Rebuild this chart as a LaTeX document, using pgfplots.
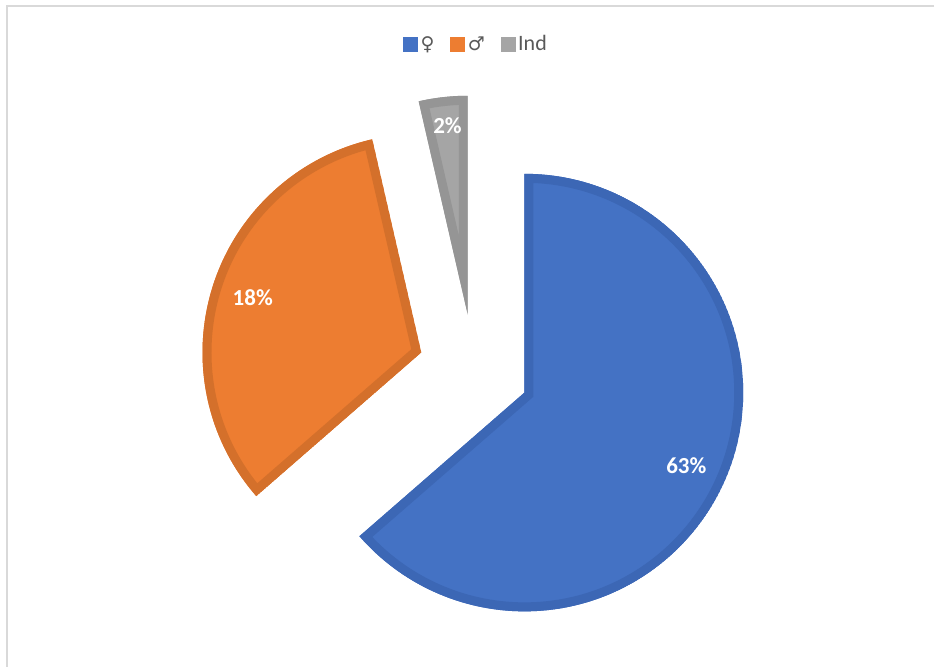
\documentclass[border=0pt]{standalone}
\usepackage{pgfplots}
\usepackage{pgfplotstable}
\pgfplotsset{compat=1.18}
\usepackage{fontspec}
\setmainfont{Carlito}
\newfontfamily\symfont{DejaVu Sans}
\definecolor{cblue}{HTML}{4472C4}
\definecolor{dblue}{HTML}{3C67B5}
\definecolor{corange}{HTML}{ED7D31}
\definecolor{dorange}{HTML}{D4702B}
\definecolor{cgrey}{HTML}{A5A5A5}
\definecolor{dgrey}{HTML}{959595}
\definecolor{legtext}{HTML}{595959}
\definecolor{framegrey}{HTML}{D9D9D9}

% share = angular share of the pie (%), label = printed data label (%)
\pgfplotstableread{
name share label lx ly
F 63.6 63 687 466
M 32.8 18 253 298
I 3.6 2 448 126
}\pietable

\pgfplotstablegetelem{0}{share}\of\pietable \let\shA\pgfplotsretval
\pgfplotstablegetelem{1}{share}\of\pietable \let\shB\pgfplotsretval
\pgfplotstablegetelem{2}{share}\of\pietable \let\shC\pgfplotsretval
\pgfplotstablegetelem{0}{label}\of\pietable \let\lbA\pgfplotsretval
\pgfplotstablegetelem{1}{label}\of\pietable \let\lbB\pgfplotsretval
\pgfplotstablegetelem{2}{label}\of\pietable \let\lbC\pgfplotsretval
\pgfplotstablegetelem{0}{lx}\of\pietable \let\lxA\pgfplotsretval
\pgfplotstablegetelem{1}{lx}\of\pietable \let\lxB\pgfplotsretval
\pgfplotstablegetelem{2}{lx}\of\pietable \let\lxC\pgfplotsretval
\pgfplotstablegetelem{0}{ly}\of\pietable \let\lyA\pgfplotsretval
\pgfplotstablegetelem{1}{ly}\of\pietable \let\lyB\pgfplotsretval
\pgfplotstablegetelem{2}{ly}\of\pietable \let\lyC\pgfplotsretval

\pgfmathsetmacro\aS{90}
\pgfmathsetmacro\aA{90-3.6*\shA}
\pgfmathsetmacro\aB{\aA-3.6*\shB}
\pgfmathsetmacro\aC{\aB-3.6*\shC}
\pgfmathsetmacro\mA{(\aS+\aA)/2}
\pgfmathsetmacro\mB{(\aA+\aB)/2}
\pgfmathsetmacro\mC{(\aB+\aC)/2}

\def\pcx{474.5}\def\pcy{370}
\def\pR{219pt}\def\pD{55.5pt}

% #1 fill, #2 outline, #3 start angle, #4 end angle, #5 mid angle
\newcommand\slice[5]{%
  \begin{scope}
    \clip ([shift={(#5:\pD)}]axis cs:\pcx,\pcy) -- ++(#3:\pR)
      arc[start angle=#3, end angle=#4, radius=\pR] -- cycle;
    \fill[#1] ([shift={(#5:\pD)}]axis cs:\pcx,\pcy) -- ++(#3:\pR)
      arc[start angle=#3, end angle=#4, radius=\pR] -- cycle;
    \draw[#2, line width=18pt, line join=miter] ([shift={(#5:\pD)}]axis cs:\pcx,\pcy) -- ++(#3:\pR)
      arc[start angle=#3, end angle=#4, radius=\pR] -- cycle;
  \end{scope}}

\begin{document}
\begin{tikzpicture}
\begin{axis}[
  hide axis,
  x=1pt, y=1pt,
  xmin=0, xmax=935, ymin=0, ymax=668,
  y dir=reverse,
  scale only axis,
  clip=false,
  legend columns=3,
  legend style={at={(axis cs:477,44)}, anchor=center, draw=none, fill=none,
    inner sep=0pt,
    font=\fontsize{22}{26}\selectfont\color{legtext},
    /tikz/every even column/.append style={column sep=13pt},
    nodes={inner xsep=3pt, inner ysep=0pt}},
]
\path (axis cs:0,0) rectangle (axis cs:935,668);
\draw[framegrey, line width=2pt] (axis cs:935,6.5) -- (axis cs:7.5,6.5) -- (axis cs:7.5,668);

\addlegendimage{legend image code/.code={\fill[cblue] (0pt,-7pt) rectangle (14pt,7pt);}}
\addlegendentry{{\symfont\fontsize{19}{21}\selectfont ♀}}
\addlegendimage{legend image code/.code={\fill[corange] (0pt,-7pt) rectangle (14pt,7pt);}}
\addlegendentry{{\symfont\fontsize{19}{21}\selectfont ♂}}
\addlegendimage{legend image code/.code={\fill[cgrey] (0pt,-7pt) rectangle (14pt,7pt);}}
\addlegendentry{Ind}

\slice{cblue}{dblue}{\aS}{\aA}{\mA}
\slice{corange}{dorange}{\aA}{\aB}{\mB}
\slice{cgrey}{dgrey}{\aB}{\aC}{\mC}

\node[white, font=\fontsize{23}{27}\selectfont\bfseries] at (axis cs:\lxA,\lyA) {\lbA\%};
\node[white, font=\fontsize{23}{27}\selectfont\bfseries] at (axis cs:\lxB,\lyB) {\lbB\%};
\node[white, font=\fontsize{23}{27}\selectfont\bfseries] at (axis cs:\lxC,\lyC) {\lbC\%};
\end{axis}
\end{tikzpicture}
\end{document}
